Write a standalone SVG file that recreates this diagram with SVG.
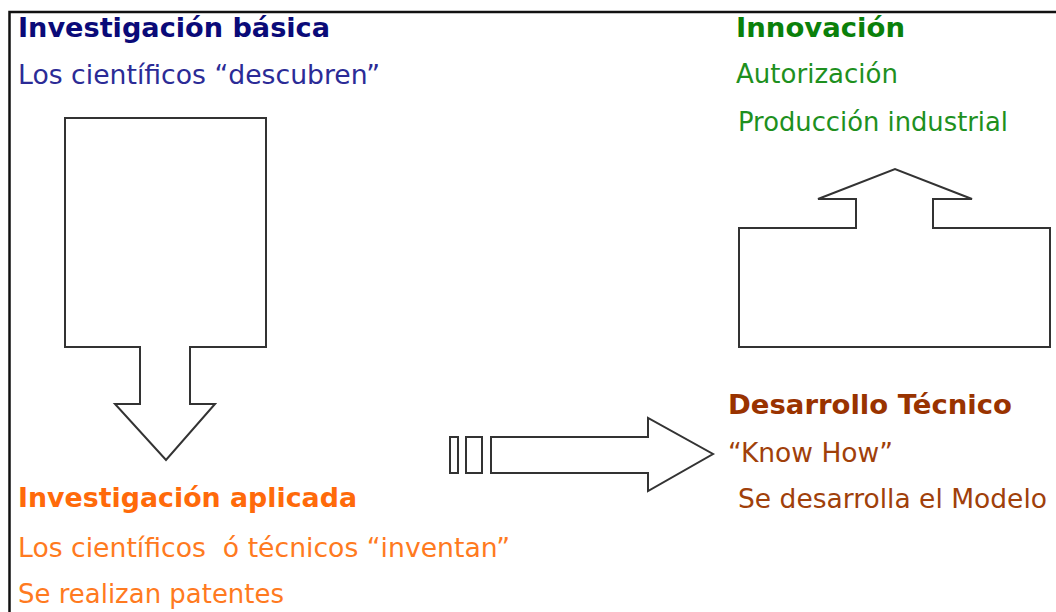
<svg xmlns="http://www.w3.org/2000/svg" width="1056" height="612" viewBox="0 0 1056 612">
<style>
.t{font-family:"DejaVu Sans",Verdana,sans-serif;font-size:26px}
.b{font-weight:bold}
.shape{fill:#fff;stroke:#333;stroke-width:2;stroke-linejoin:miter}
.blue1{fill:#0a0a78}
.blue2{fill:#2b2b96}
.green1{fill:#0a800a}
.green2{fill:#1e901e}
.brown1{fill:#993300}
.brown2{fill:#a0400a}
.orange{fill:#ff6a0a}
.orange2{fill:#ff7a20}
</style>
<rect width="1056" height="612" fill="#fff"/>
<g id="frame">
<path d="M1056 12 H9.5 V612" fill="none" stroke="#111" stroke-width="2.5"/>
</g>
<g id="connectors">
<path id="arrow-down" class="shape" d="M65 118 H266 V347 H190 V404 H215 L166 460 L115 404 H140 V347 H65 Z"/>
<path id="arrow-up" class="shape" d="M739 228 H856 V199 H818 L895 169 L972 199 H933 V228 H1050 V347 H739 Z"/>
<g id="arrow-right">
<rect class="shape" x="450" y="437" width="8" height="36"/>
<rect class="shape" x="466" y="437" width="16" height="36"/>
<path class="shape" d="M491 437 H648 V418 L713 454 L648 491 V473 H491 Z"/>
</g>
</g>
<g id="basica">
<text class="t b blue1" x="18" y="37" textLength="312" lengthAdjust="spacingAndGlyphs">Investigación básica</text>
<text class="t blue2" x="18" y="84" textLength="362" lengthAdjust="spacingAndGlyphs">Los científicos “descubren”</text>
</g>
<g id="innovacion">
<text class="t b green1" x="736" y="37" textLength="169" lengthAdjust="spacingAndGlyphs">Innovación</text>
<text class="t green2" x="736" y="83" textLength="162" lengthAdjust="spacingAndGlyphs">Autorización</text>
<text class="t green2" x="738" y="131" textLength="270" lengthAdjust="spacingAndGlyphs">Producción industrial</text>
</g>
<g id="desarrollo">
<text class="t b brown1" x="728" y="414" textLength="284" lengthAdjust="spacingAndGlyphs">Desarrollo Técnico</text>
<text class="t brown2" x="728" y="462" textLength="165" lengthAdjust="spacingAndGlyphs">“Know How”</text>
<text class="t brown2" x="738" y="508" textLength="309" lengthAdjust="spacingAndGlyphs">Se desarrolla el Modelo</text>
</g>
<g id="aplicada">
<text class="t b orange" x="18" y="507" textLength="339" lengthAdjust="spacingAndGlyphs">Investigación aplicada</text>
<text class="t orange2" x="18" y="557" textLength="492" lengthAdjust="spacingAndGlyphs" xml:space="preserve">Los científicos  ó técnicos “inventan”</text>
<text class="t orange2" x="18" y="603" textLength="266" lengthAdjust="spacingAndGlyphs">Se realizan patentes</text>
</g>
</svg>
